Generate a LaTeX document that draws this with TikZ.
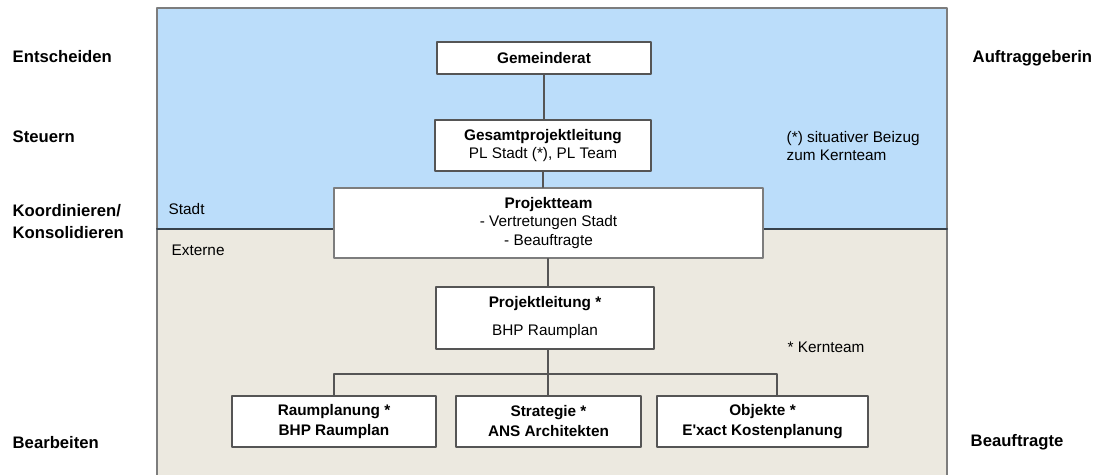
\documentclass[tikz,border=0pt]{standalone}
\usepackage{fontspec}
\setmainfont{Liberation Sans}
\usepackage{tikz}

\definecolor{stadtblau}{RGB}{187,221,250}
\definecolor{externbeige}{RGB}{236,233,224}
\definecolor{rahmengrau}{RGB}{125,125,125}
\definecolor{liniengrau}{RGB}{85,85,85}
\definecolor{trenngrau}{RGB}{55,65,75}

\begin{document}
\begin{tikzpicture}[line cap=round,line join=round,x=0.75pt,y=-0.75pt,
  box/.style={draw=liniengrau,line width=0.9pt,fill=white,inner sep=0pt,align=center,
    font=\fontsize{11.5}{14}\selectfont},
  masse/.style 2 args={minimum width=#1*0.75pt,minimum height=#2*0.75pt},
  verbindung/.style={draw=liniengrau,line width=0.8pt},
  ebene/.style={anchor=west,align=left,font=\bfseries\fontsize{12.5}{17}\selectfont},
  notiz/.style={anchor=west,align=left,font=\fontsize{11.5}{13.5}\selectfont}]
\useasboundingbox (0,0) rectangle (1108,475);
% Bereiche Stadt / Externe
\fill[stadtblau] (157,8) rectangle (947,229);
\fill[externbeige] (157,229) rectangle (947,480);
\draw[rahmengrau,line width=1pt] (157,480) -- (157,8) -- (947,8) -- (947,480);
\draw[trenngrau,line width=1.5pt] (157,229) -- (947,229);
\node[notiz] (stadt) at (164,209) {Stadt};
\node[notiz] (externe) at (167,250) {Externe};
% Organigramm
\node[box,masse={214}{32}] (gemeinderat) at (544,58) {\textbf{Gemeinderat}};
\node[box,masse={216}{51}] (gesamt) at (543,145.5) {\textbf{Gesamtprojektleitung}\\PL Stadt (*), PL Team};
\node[box,masse={429}{70},draw=rahmengrau] (projektteam) at (548.5,223) {\textbf{Projektteam}\\- Vertretungen Stadt\\- Beauftragte};
\node[box,masse={218}{62}] (projektleitung) at (545,318) {\textbf{Projektleitung *}\\[7pt]BHP Raumplan};
\node[box,masse={204}{51},font=\bfseries\fontsize{11.5}{14}\selectfont] (raumplanung) at (334,421.5) {Raumplanung *\\[1pt]BHP Raumplan};
\node[box,masse={185}{51},font=\bfseries\fontsize{11.5}{14}\selectfont] (strategie) at (548.5,421.5) {Strategie *\\[1pt]ANS Architekten};
\node[box,masse={211}{51},font=\bfseries\fontsize{11.5}{14}\selectfont] (objekte) at (762.5,421.5) {Objekte *\\[1pt]E\textquotesingle xact Kostenplanung};
\coordinate (bus) at (548,374);
\coordinate (objektedrop) at (777,396);
\draw[verbindung] (gemeinderat.south) -- (gemeinderat.south |- gesamt.north);
\draw[verbindung] (gesamt.south) -- (gesamt.south |- projektteam.north);
\draw[verbindung] (projektteam.south -| bus) -- (projektleitung.north -| bus);
\draw[verbindung] (projektleitung.south -| bus) -- (bus);
\draw[verbindung] (raumplanung.north) |- (bus) -| (objektedrop);
\draw[verbindung] (bus) -- (strategie.north -| bus);
% Hinweise
\node[notiz] (beizug) at (782,146) {(*) situativer Beizug\\zum Kernteam};
\node[notiz] (kernteam) at (783,347) {* Kernteam};
% Ebenen links
\node[ebene] (entscheiden) at (8,57) {Entscheiden};
\node[ebene] (steuern) at (8,137) {Steuern};
\node[ebene] (koordinieren) at (8,221.5) {Koordinieren/\\Konsolidieren};
\node[ebene] (bearbeiten) at (8,443) {Bearbeiten};
% Rollen rechts
\node[ebene] (auftraggeberin) at (968,58) {Auftraggeberin};
\node[ebene] (beauftragte) at (966,442) {Beauftragte};
\end{tikzpicture}
\end{document}
